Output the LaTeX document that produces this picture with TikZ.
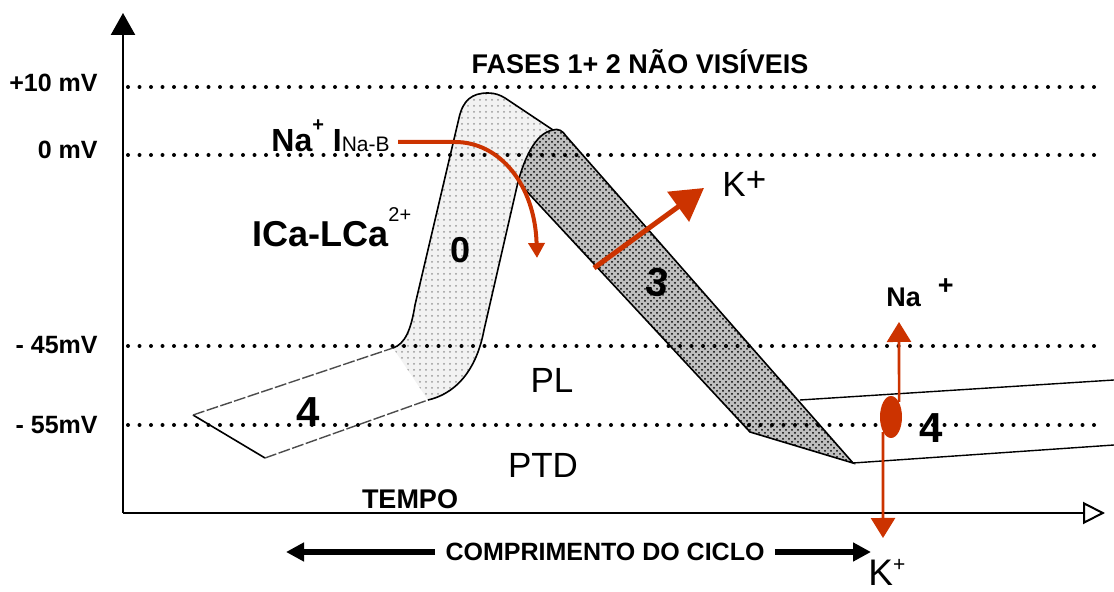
\documentclass[tikz,border=0pt]{standalone}
\usepackage{fontspec}
\setmainfont{Liberation Sans}
\usetikzlibrary{arrows.meta, patterns, shapes.geometric}
\definecolor{ionred}{HTML}{CC3300}

\begin{document}
\begin{tikzpicture}[x=0.5pt, y=-0.5pt, every node/.style={inner sep=0pt},
    boldtext/.style={font=\fontsize{#1}{#1}\selectfont\bfseries},
    plaintext/.style={font=\fontsize{#1}{#1}\selectfont},
    mvline/.style={line width=2pt, dash pattern=on 0pt off 5.75pt, line cap=round},
    outline/.style={line width=0.8pt},
    faint/.style={line width=0.7pt, gray!60!black, dash pattern=on 6pt off 1.2pt},
    ion/.style={ionred, line width=#1}]
    \useasboundingbox (0,0) rectangle (1114,592);

    % Phase 0 and phase 3 shading
    \path[fill=gray!10, postaction={pattern=dots, pattern color=gray!80}]
        (393,348) .. controls (405,344) and (411,330) .. (415,305) -- (459,118)
        .. controls (463,100) and (472,93) .. (488,93) .. controls (495,93) and (500,95) .. (505,98)
        -- (553,130) .. controls (535,133) and (524,160) .. (518,182) -- (484,330)
        .. controls (478,362) and (462,392) .. (428,400) -- cycle;
    \path[fill=gray!50, postaction={pattern=crosshatch dots, pattern color=black}]
        (553,130) .. controls (535,133) and (524,160) .. (518,182) -- (750,432) -- (853,463)
        -- (566,136) .. controls (563,131) and (558,128) .. (553,130) -- cycle;

    % Outlines
    \draw[outline] (265,458) -- (193,415);
    \draw[faint] (193,415) -- (393,348);
    \draw[faint] (265,458) -- (428,400);
    \draw[outline] (393,348) .. controls (405,344) and (411,330) .. (415,305) -- (459,118)
        .. controls (463,100) and (472,93) .. (488,93) .. controls (495,93) and (500,95) .. (505,98)
        -- (553,130);
    \draw[outline] (428,400) .. controls (462,392) and (478,362) .. (484,330) -- (518,182);
    \draw[outline] (553,130) .. controls (535,133) and (524,160) .. (518,182) -- (750,432) -- (853,463)
        -- (566,136) .. controls (563,131) and (558,128) .. (553,130);
    \draw[outline, line width=0.7pt] (800,400) -- (1114,380);
    \draw[outline, line width=0.7pt] (853,463) -- (1114,445);

    % Levels
    \foreach \lv in {87,155,346,425}
        \draw[mvline] (128,\lv) -- (1096,\lv);

    % Axes
    \coordinate (origin) at (123,513);
    \coordinate (vtop) at (123,13);
    \coordinate (htip) at (1105,513);
    \draw[line width=1.2pt, -{Triangle[length=11pt, width=12pt]}] (origin) -- (vtop);
    \draw[line width=1pt, -{Triangle[open, length=11pt, width=11pt]}] (origin) -- (htip);

    % Labels
    \node[boldtext=12.5, anchor=east] (mv10) at (98,83) {+10 mV};
    \node[boldtext=12.5, anchor=east] (mv0) at (98,150) {0 mV};
    \node[boldtext=12.5, anchor=east] (mv45) at (98,345) {- 45mV};
    \node[boldtext=12.5, anchor=east] (mv55) at (98,425) {- 55mV};
    \node[boldtext=13.5] (fases) at (640,62) {FASES 1+ 2 NÃO VISÍVEIS};
    \node[boldtext=13.5] (tempo) at (410,499) {TEMPO};
    \node[boldtext=18] (ph0) at (461,250) {0};
    \node[boldtext=20, rotate=-8] (ph3) at (657,282) {3};
    \node[boldtext=21] (ph4a) at (308,412) {4};
    \node[boldtext=21] (ph4b) at (931,428) {4};
    \node[plaintext=17.5] (pl) at (552,380) {PL};
    \node[plaintext=17.5] (ptd) at (543,465) {PTD};
    \node[boldtext=16, anchor=base west] (nab) at (271,152)
        {Na\raisebox{10pt}{\fontsize{10}{10}\selectfont+}\ I{\mdseries\fontsize{10.5}{10.5}\selectfont Na-B}};
    \node[boldtext=18, anchor=base west] (cal) at (252,247)
        {ICa-LCa\raisebox{12.5pt}{\mdseries\fontsize{10}{10}\selectfont 2+}};
    \node[plaintext=17.5, anchor=base west] (kout) at (722,197) {K\raisebox{2.5pt}{+}};
    \node[plaintext=18.5, anchor=base west] (kin) at (868,586)
        {K\raisebox{7pt}{\fontsize{10.5}{10.5}\selectfont+}};
    \node[boldtext=13.5, anchor=base west] (nain) at (886,307) {Na\hspace{8.5pt}\raisebox{6pt}{+}};

    % Cycle length
    \node[boldtext=12.5, inner xsep=5pt] (ciclo) at (605,552) {COMPRIMENTO DO CICLO};
    \coordinate (cicl) at (286,552);
    \coordinate (cicr) at (871,552);
    \draw[line width=3pt, -{Triangle[length=9pt, width=9pt]}] (ciclo.west) -- (cicl);
    \draw[line width=3pt, -{Triangle[length=9pt, width=9pt]}] (ciclo.east) -- (cicr);

    % Currents
    \coordinate (nabfrom) at (398,142);
    \coordinate (nabto) at (537,258);
    \draw[ion=2pt, -{Triangle[length=7.5pt, width=8pt]}] (nabfrom) -- (455,142)
        .. controls (500,142) and (535,185) .. (nabto);
    \coordinate (kfrom) at (594,268);
    \coordinate (kto) at (704,188);
    \draw[ion=2.5pt, -{Triangle[length=16pt, width=18pt]}] (kfrom) -- (kto);
    \node[ellipse, fill=ionred, minimum width=11pt, minimum height=21pt] (pump) at (891,417) {};
    \coordinate (naup) at (899,322);
    \coordinate (kdown) at (883,538);
    \draw[ion=1.3pt, -{Triangle[length=10pt, width=12pt]}] (pump.north east) -- (naup);
    \draw[ion=1.3pt, -{Triangle[length=10pt, width=12pt]}] (pump.south west) -- (kdown);
\end{tikzpicture}
\end{document}
